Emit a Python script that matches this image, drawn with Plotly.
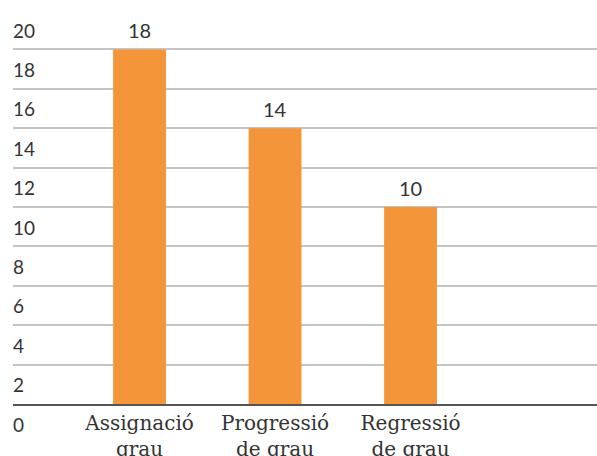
import plotly.graph_objects as go

# Categories and counts
categories = ["Assignació<br>grau", "Progressió<br>de grau", "Regressió<br>de grau"]
values = [18, 14, 10]
y_ticks = [0, 2, 4, 6, 8, 10, 12, 14, 16, 18, 20]

BAR_COLOR = "#F5953A"
TEXT_COLOR = "#333333"

fig = go.Figure(
    go.Bar(
        x=categories,
        y=values,
        marker=dict(color=BAR_COLOR, line=dict(width=0)),
        width=0.39,
        hoverinfo="x+y",
    )
)

# Value labels sitting above each bar
for cat, val in zip(categories, values):
    fig.add_annotation(
        x=cat,
        y=val,
        text=str(val),
        showarrow=False,
        yanchor="bottom",
        yshift=5,
        font=dict(family="Lato", size=20, color=TEXT_COLOR),
    )

# Y tick labels hang just below their gridlines, inside the plot area
for t in y_ticks:
    fig.add_annotation(
        x=0,
        xref="paper",
        y=t,
        yref="y",
        text=str(t),
        showarrow=False,
        xanchor="left",
        yanchor="middle",
        xshift=-2,
        yshift=-20,
        font=dict(family="Lato", size=19, color=TEXT_COLOR),
    )

fig.update_layout(
    width=597,
    height=456,
    margin=dict(l=13, r=0, t=10, b=52),
    paper_bgcolor="white",
    plot_bgcolor="white",
    showlegend=False,
    xaxis=dict(
        range=[-0.934, 3.376],
        showgrid=False,
        showline=True,
        linecolor="#555555",
        linewidth=1.5,
        ticks="",
        tickfont=dict(family="DejaVu Serif", size=20, color=TEXT_COLOR),
        zeroline=False,
        automargin=False,
        fixedrange=True,
    ),
    yaxis=dict(
        range=[0, 20],
        tickvals=y_ticks,
        showticklabels=False,
        showgrid=True,
        gridcolor="#C4C4C4",
        gridwidth=2,
        zeroline=False,
        showline=False,
        ticks="",
        automargin=False,
        fixedrange=True,
    ),
)

fig.write_html("out.html")
